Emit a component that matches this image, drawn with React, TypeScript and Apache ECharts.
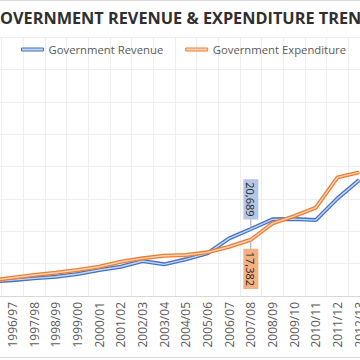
import React, { useEffect, useRef } from 'react';
import * as echarts from 'echarts';

const categories = [
  '1995/96', '1996/97', '1997/98', '1998/99', '1999/00', '2000/01', '2001/02', '2002/03', '2003/04',
  '2004/05', '2005/06', '2006/07', '2007/08', '2008/09', '2009/10', '2010/11', '2011/12', '2012/13',
];
const revenue = [
  4380, 4900, 5460, 5960, 6790, 8020, 9040, 10800, 9780,
  11330, 13180, 17800, 20689, 23670, 23760, 23450, 30150, 35800,
];
const expenditure = [
  4750, 5650, 6480, 7190, 8020, 9040, 10590, 11630, 12440,
  12650, 13490, 15210, 17382, 22430, 24690, 27310, 36630, 38170,
];
const labelIndex = 12;
const yMin = 0;
const yMax = 80000;
const yInterval = 10000;

// visible part of the (cropped) chart title
const titleText = 'OVERNMENT REVENUE & EXPENDITURE TREN';
const revName = 'Government Revenue';
const expName = 'Government Expenditure';

const OFFSET = 20; // chart canvas extends 20px left of the view (cropped like the reference)
const CHART_W = 390;

export default function App() {
  const ref = useRef<HTMLDivElement>(null);
  useEffect(() => {
    const chart = echarts.init(ref.current!, null, { renderer: 'svg' });
    const fmt = (v: number) => v.toLocaleString('en-US');
    const labelBase = {
      show: true,
      rotate: -90,
      fontFamily: 'Open Sans',
      fontSize: 11,
      lineHeight: 13,
      color: '#262626',
      padding: [1, 3],
      verticalAlign: 'middle',
      formatter: (p: any) => fmt(p.value),
    };
    const withLabel = (vals: number[], cfg: any) =>
      vals.map((v, i) => (i === labelIndex ? { value: v, label: cfg } : v));
    const leader = (vals: number[], dy: number) => ({
      silent: true,
      symbol: 'rect',
      symbolSize: [1, 9],
      symbolOffset: [0, dy],
      itemStyle: { color: '#a6a6a6' },
      label: { show: false },
      data: [{ coord: [labelIndex, vals[labelIndex]] }],
    });

    chart.setOption({
      animation: false,
      backgroundColor: '#ffffff',
      title: {
        text: titleText,
        left: OFFSET,
        top: 10,
        padding: 0,
        textStyle: { fontFamily: 'Open Sans', fontWeight: 'bold', fontSize: 16.3, color: '#2f2f2f' },
      },
      legend: {
        data: [
          { name: revName, itemStyle: { color: '#c5d5ef', borderColor: '#4472C4', borderWidth: 1 } },
          { name: expName, itemStyle: { color: '#f9d3b8', borderColor: '#ED7D31', borderWidth: 1 } },
        ],
        icon: 'rect',
        left: OFFSET + 21,
        top: 44,
        padding: 0,
        itemWidth: 22,
        itemHeight: 3,
        itemGap: 22,
        textStyle: { fontFamily: 'Open Sans', fontSize: 11.3, color: '#595959' },
      },
      graphic: [
        { type: 'line', shape: { x1: 0, y1: 0.5, x2: CHART_W, y2: 0.5 }, style: { stroke: '#d9d9d9', lineWidth: 1 } },
        { type: 'line', shape: { x1: 0, y1: 357.5, x2: CHART_W, y2: 357.5 }, style: { stroke: '#d9d9d9', lineWidth: 1 } },
      ],
      grid: { left: 0, right: 0, top: 37, bottom: 64, containLabel: false },
      xAxis: {
        type: 'category',
        data: categories,
        boundaryGap: true,
        axisLine: { show: true, lineStyle: { color: '#d9d9d9' } },
        axisTick: { show: false },
        axisLabel: {
          rotate: 90,
          interval: (i: number) => i > 0,
          margin: 6,
          fontFamily: 'Open Sans',
          fontSize: 12,
          color: '#595959',
        },
        splitLine: { show: true, interval: 0, lineStyle: { color: '#eeeeee' } },
      },
      yAxis: {
        type: 'value',
        min: yMin,
        max: yMax,
        interval: yInterval,
        axisLabel: { show: false },
        axisLine: { show: false },
        axisTick: { show: false },
        splitLine: { show: true, lineStyle: { color: '#eeeeee' } },
      },
      series: [
        {
          name: revName,
          type: 'line',
          data: withLabel(revenue, {
            ...labelBase,
            position: 'top',
            distance: 9,
            align: 'right',
            backgroundColor: '#b4c7e7',
          }),
          symbol: 'circle',
          symbolSize: 1,
          itemStyle: { color: '#4472C4' },
          lineStyle: { color: '#4472C4', width: 4 },
          label: { show: false },
          markPoint: leader(revenue, -5),
          z: 2,
        },
        {
          name: 'revInner',
          type: 'line',
          data: revenue,
          symbol: 'none',
          silent: true,
          lineStyle: { color: '#c5d5ef', width: 1.4 },
          z: 3,
        },
        {
          name: expName,
          type: 'line',
          data: withLabel(expenditure, {
            ...labelBase,
            position: 'bottom',
            distance: 8.5,
            align: 'left',
            backgroundColor: '#f4b183',
          }),
          symbol: 'circle',
          symbolSize: 1,
          itemStyle: { color: '#ED7D31' },
          lineStyle: { color: '#ED7D31', width: 4 },
          label: { show: false },
          markPoint: leader(expenditure, 5),
          z: 4,
        },
        {
          name: 'expInner',
          type: 'line',
          data: expenditure,
          symbol: 'none',
          silent: true,
          lineStyle: { color: '#f9d3b8', width: 1.4 },
          z: 5,
        },
      ],
    });
    return () => chart.dispose();
  }, []);
  return (
    <div
      style={{
        position: 'fixed',
        left: 0,
        top: 0,
        width: 360,
        height: 360,
        overflow: 'hidden',
        background: '#fff',
      }}
    >
      <div
        ref={ref}
        style={{ position: 'absolute', left: -OFFSET, top: 0, width: CHART_W, height: 360 }}
      />
    </div>
  );
}
